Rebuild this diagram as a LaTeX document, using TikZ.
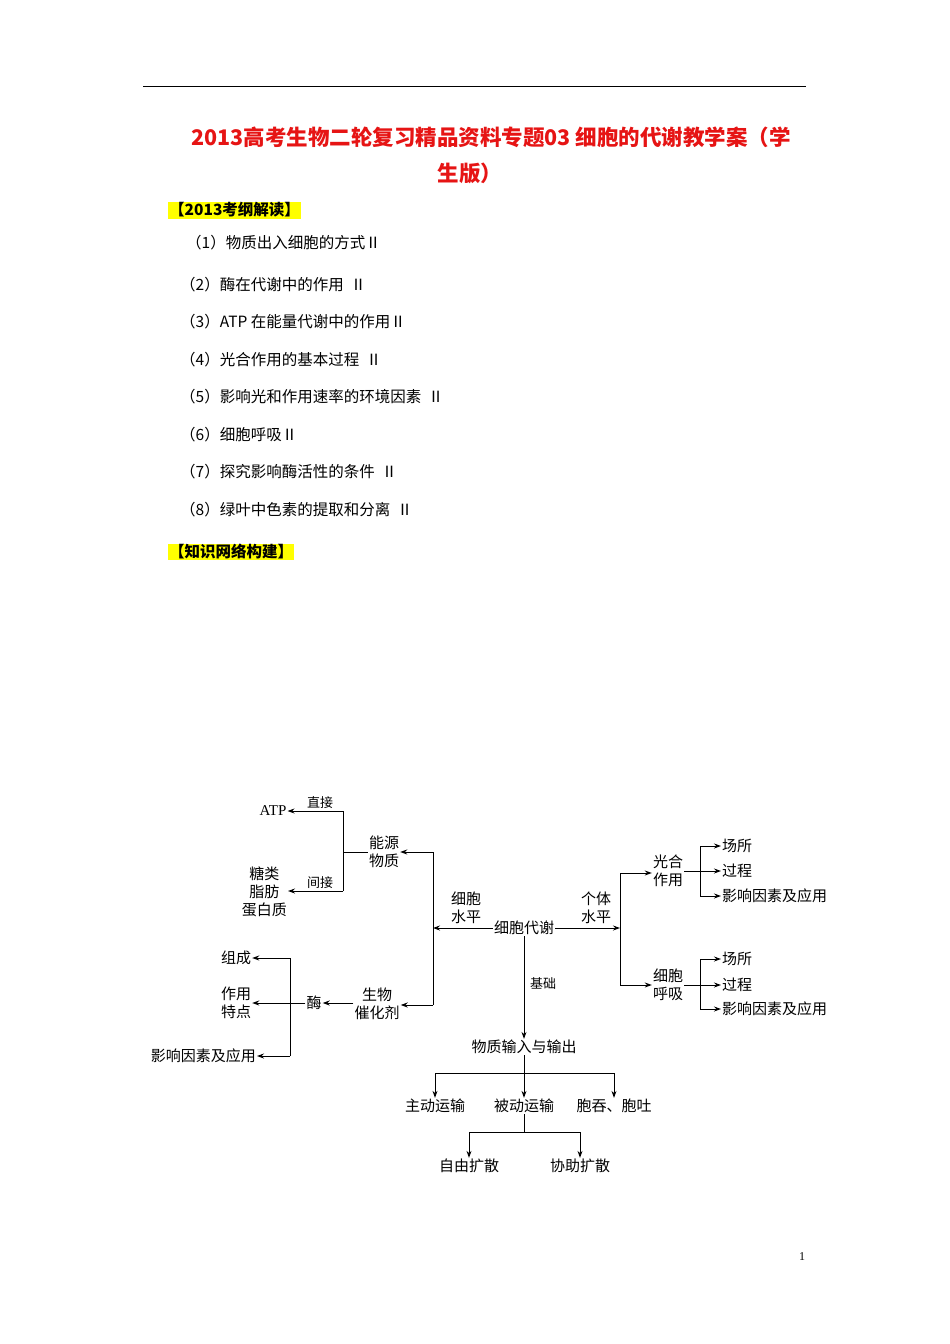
\documentclass[tikz,border=0pt]{standalone}
\usepackage{fontspec}
\setmainfont{Liberation Serif}
\newfontfamily\cjk{Noto Sans CJK SC}
\usetikzlibrary{arrows.meta}
\definecolor{titlered}{RGB}{230,20,20}
\definecolor{hl}{RGB}{255,255,0}
\begin{document}
\begin{tikzpicture}[x=1pt,y=-1pt,
  t/.style={font=\cjk\fontsize{15}{18}\selectfont,inner sep=1pt,align=center},
  li/.style={font=\cjk\fontsize{15.5}{18}\selectfont,inner sep=0pt,anchor=west},
  ar/.style={-{Stealth[length=7pt,width=5pt]},line width=1pt},
  ln/.style={line width=1pt},
  hlbox/.style={fill=hl,font=\cjk\bfseries\fontsize{15.5}{18}\selectfont,inner sep=1pt,anchor=west}]
\useasboundingbox (0,0) rectangle (950,1344);
\fill[white] (0,0) rectangle (950,1344);
\coordinate (r1) at (143,86); \coordinate (r2) at (806,86);
\draw[line width=1pt] (r1) -- (r2);
\node[font=\cjk\bfseries\fontsize{21.5}{26}\selectfont,text=titlered] (ti1) at (491,137) {2013高考生物二轮复习精品资料专题03 细胞的代谢教学案（学};
\node[font=\cjk\bfseries\fontsize{21.5}{26}\selectfont,text=titlered] (ti2) at (470,173) {生版）};
\node[hlbox] (h1) at (168,210) {【2013考纲解读】};
\node[li] (l1) at (186,243) {（1）物质出入细胞的方式Ⅱ};
\node[li] (l2) at (180,285) {（2）酶在代谢中的作用\ \ Ⅱ};
\node[li] (l3) at (180,322) {（3）ATP 在能量代谢中的作用Ⅱ};
\node[li] (l4) at (180,360) {（4）光合作用的基本过程\ \ Ⅱ};
\node[li] (l5) at (180,397) {（5）影响光和作用速率的环境因素\ \ Ⅱ};
\node[li] (l6) at (180,435) {（6）细胞呼吸Ⅱ};
\node[li] (l7) at (180,472) {（7）探究影响酶活性的条件\ \ Ⅱ};
\node[li] (l8) at (180,510) {（8）绿叶中色素的提取和分离\ \ Ⅱ};
\node[hlbox] (h2) at (168,552) {【知识网络构建】};
\node[font=\fontsize{12}{14}\selectfont] (pg) at (802,1257) {1};
% diagram
\node[t,font=\fontsize{15}{18}\selectfont] (atp) at (273,811) {ATP};
\node[t,anchor=east] (tang) at (288,892) {糖类\\脂肪\\蛋白质};
\node[t] (nengyuan) at (384,852) {能源\\物质};
\node[t] (cuihua) at (377,1004) {生物\\催化剂};
\node[t] (mei) at (314,1003) {酶};
\node[t] (zucheng) at (236,958) {组成};
\node[t] (tedian) at (236,1003) {作用\\特点};
\node[t,anchor=east] (yx1) at (257,1056) {影响因素及应用};
\node[t] (dx) at (524,928) {细胞代谢};
\node[t] (gh) at (668,871) {光合\\作用};
\node[t] (hx) at (668,985) {细胞\\呼吸};
\node[t,anchor=west] (cs1) at (721,846) {场所};
\node[t,anchor=west] (gc1) at (721,871) {过程};
\node[t,anchor=west] (yx2) at (721,896) {影响因素及应用};
\node[t,anchor=west] (cs2) at (721,959) {场所};
\node[t,anchor=west] (gc2) at (721,985) {过程};
\node[t,anchor=west] (yx3) at (721,1009) {影响因素及应用};
\node[t] (wz) at (524,1047) {物质输入与输出};
\node[t] (zd) at (435,1106) {主动运输};
\node[t] (bd) at (524,1106) {被动运输};
\node[t] (bt) at (614,1106) {胞吞、胞吐};
\node[t] (zy) at (469,1166) {自由扩散};
\node[t] (xz) at (580,1166) {协助扩散};
\node[t,font=\cjk\fontsize{13}{15}\selectfont] (zj) at (320,803) {直接};
\node[t,font=\cjk\fontsize{13}{15}\selectfont] (jj) at (320,883) {间接};
\node[t] (xbsp) at (466,908) {细胞\\水平};
\node[t] (gtsp) at (596,908) {个体\\水平};
\node[t,font=\cjk\fontsize{13}{15}\selectfont] (jc) at (543,983) {基础};
% left connectors
\coordinate (a1) at (343,811); \coordinate (a2) at (343,891);
\coordinate (L1) at (433,852); \coordinate (L2) at (433,1005); \coordinate (L3) at (433,928);
\draw[ar] (a1) -- (atp.east);
\draw[ln] (a1) -- (a2);
\draw[ar] (a2) -- (tang.east|-a2);
\draw[ln] (nengyuan.west) -- (nengyuan.west-|a1);
\draw[ln] (L1) -- (L2);
\draw[ar] (L1) -- (nengyuan.east);
\draw[ar] (L2) -- (cuihua.east|-L2);
\draw[ar] (dx.west) -- (L3);
\draw[ar] (cuihua.west|-mei) -- (mei.east);
\coordinate (m1) at (290,958); \coordinate (m2) at (290,1056);
\draw[ln] (m1) -- (m2);
\draw[ar] (mei.west) -- (tedian.east);
\draw[ar] (m1) -- (zucheng.east);
\draw[ar] (m2) -- (yx1.east);
% right connectors
\coordinate (R1) at (620,873); \coordinate (R2) at (620,985); \coordinate (R3) at (620,928);
\draw[ar] (dx.east) -- (R3);
\draw[ln] (R1) -- (R2);
\draw[ar] (R1) -- (gh.west|-R1);
\draw[ar] (R2) -- (hx.west);
\coordinate (p1) at (700,846); \coordinate (p2) at (700,896);
\draw[ln] (p1) -- (p2);
\draw[ar] (gh.east) -- (gc1.west);
\draw[ar] (p1) -- (cs1.west);
\draw[ar] (p2) -- (yx2.west);
\coordinate (q1) at (700,959); \coordinate (q2) at (700,1009);
\draw[ln] (q1) -- (q2);
\draw[ar] (hx.east) -- (gc2.west);
\draw[ar] (q1) -- (cs2.west);
\draw[ar] (q2) -- (yx3.west);
% down
\draw[ar] (dx.south) -- (wz.north);
\coordinate (d1) at (435,1073); \coordinate (d2) at (614,1073);
\draw[ln] (d1) -- (d2);
\draw[ar] (wz.south) -- (bd.north);
\draw[ar] (d1) -- (zd.north);
\draw[ar] (d2) -- (bt.north);
\coordinate (e1) at (469,1132); \coordinate (e2) at (580,1132); \coordinate (e0) at (524,1132);
\draw[ln] (bd.south) -- (e0);
\draw[ln] (e1) -- (e2);
\draw[ar] (e1) -- (zy.north);
\draw[ar] (e2) -- (xz.north);
\end{tikzpicture}
\end{document}
